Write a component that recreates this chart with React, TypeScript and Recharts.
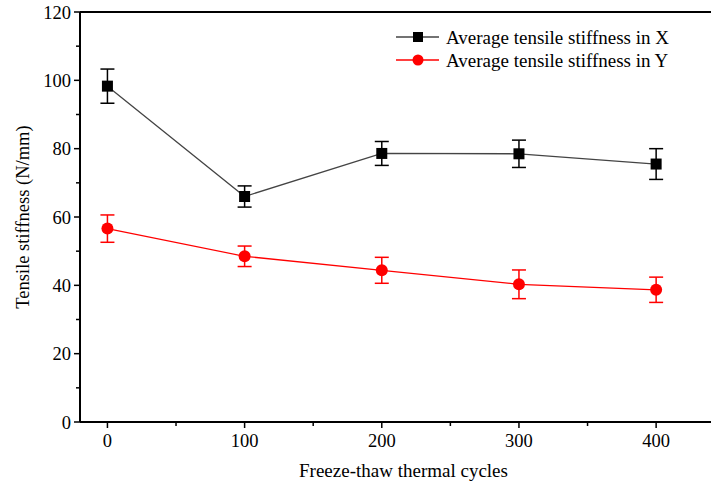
import { LineChart, Line, XAxis, YAxis, ErrorBar, ReferenceLine } from 'recharts';

const cycles = [0, 100, 200, 300, 400];
const stiffnessX = [98.3, 66.0, 78.6, 78.5, 75.5];
const errorX = [5.0, 3.1, 3.5, 4.0, 4.5];
const stiffnessY = [56.6, 48.5, 44.4, 40.3, 38.7];
const errorY = [4.0, 3.0, 3.8, 4.2, 3.7];

const xTicks = [0, 50, 100, 150, 200, 250, 300, 350, 400];
const yTicks = [0, 10, 20, 30, 40, 50, 60, 70, 80, 90, 100, 110, 120];

const FONT = '"Liberation Serif", "Times New Roman", serif';

const data = cycles.map((c, i) => ({
  cycle: c,
  sx: stiffnessX[i],
  ex: errorX[i],
  sy: stiffnessY[i],
  ey: errorY[i],
}));

const YTick = (props: any) => {
  const { x, y, payload } = props;
  const major = payload.value % 20 === 0;
  return (
    <g>
      <line x1={x} x2={x - (major ? 6 : 4)} y1={y} y2={y} stroke="#000" strokeWidth={1.5} />
      {major && (
        <text x={x - 9} y={y} dy={6.5} textAnchor="end" fontFamily={FONT} fontSize={18.5} fill="#000">
          {payload.value}
        </text>
      )}
    </g>
  );
};

const XTick = (props: any) => {
  const { x, y, payload } = props;
  const major = payload.value % 100 === 0;
  return (
    <g>
      <line x1={x} x2={x} y1={y} y2={y + (major ? 6 : 4)} stroke="#000" strokeWidth={1.5} />
      {major && (
        <text x={x} y={y + 25} textAnchor="middle" fontFamily={FONT} fontSize={18.5} fill="#000">
          {payload.value}
        </text>
      )}
    </g>
  );
};

function LegendBox() {
  const rows = [
    { label: 'Average tensile stiffness in X', color: '#000', line: '#444', shape: 'square' },
    { label: 'Average tensile stiffness in Y', color: '#ff0000', line: '#ff0000', shape: 'circle' },
  ];
  return (
    <svg width={320} height={50} style={{ position: 'absolute', left: 390, top: 25 }}>
      {rows.map((r, i) => {
        const cy = 12 + i * 23;
        return (
          <g key={r.label}>
            <line x1={6} x2={49} y1={cy} y2={cy} stroke={r.line} strokeWidth={1.3} />
            {r.shape === 'square' ? (
              <rect x={23} y={cy - 5} width={10} height={10} fill={r.color} />
            ) : (
              <circle cx={28} cy={cy} r={5.5} fill={r.color} />
            )}
            <text x={56} y={cy} dy={6.5} fontFamily={FONT} fontSize={19} fill="#000">
              {r.label}
            </text>
          </g>
        );
      })}
    </svg>
  );
}

export default function App() {
  return (
    <div style={{ position: 'absolute', left: 0, top: 0, width: 714, height: 483, background: '#fff' }}>
      <LineChart width={714} height={483} data={data} margin={{ top: 12, right: 3, left: 0, bottom: 11 }}>
        <XAxis
          dataKey="cycle"
          type="number"
          domain={[-20, 440]}
          ticks={xTicks}
          tick={<XTick />}
          tickLine={false}
          tickSize={0}
          tickMargin={0}
          height={50}
          axisLine={{ stroke: '#000', strokeWidth: 2 }}
          label={{ value: 'Freeze-thaw thermal cycles', position: 'insideBottom', offset: -5, dx: 8, fontFamily: FONT, fontSize: 19, fill: '#000', style: { fill: '#000' } }}
        />
        <YAxis
          type="number"
          domain={[0, 120]}
          ticks={yTicks}
          tick={<YTick />}
          tickLine={false}
          tickSize={0}
          tickMargin={0}
          width={80}
          axisLine={{ stroke: '#000', strokeWidth: 2 }}
          label={{ value: 'Tensile stiffness (N/mm)', angle: -90, position: 'insideLeft', offset: 22, style: { textAnchor: 'middle', fill: '#000' }, fontFamily: FONT, fontSize: 18.5, fill: '#000' }}
        />
        <ReferenceLine y={120} stroke="#000" strokeWidth={2} />
        <Line
          dataKey="sx"
          stroke="#444"
          strokeWidth={1.3}
          isAnimationActive={false}
          dot={(p: any) => <rect key={`sq${p.index}`} x={p.cx - 5.5} y={p.cy - 5.5} width={11} height={11} fill="#000" />}
          activeDot={false}
        >
          <ErrorBar dataKey="ex" width={7} stroke="#000" strokeWidth={1.5} direction="y" isAnimationActive={false} />
        </Line>
        <Line
          dataKey="sy"
          stroke="#ff0000"
          strokeWidth={1.3}
          isAnimationActive={false}
          dot={{ r: 6, fill: '#ff0000', stroke: '#ff0000', strokeWidth: 0 }}
          activeDot={false}
        >
          <ErrorBar dataKey="ey" width={7} stroke="#ff0000" strokeWidth={1.5} direction="y" isAnimationActive={false} />
        </Line>
      </LineChart>
      <LegendBox />
    </div>
  );
}
